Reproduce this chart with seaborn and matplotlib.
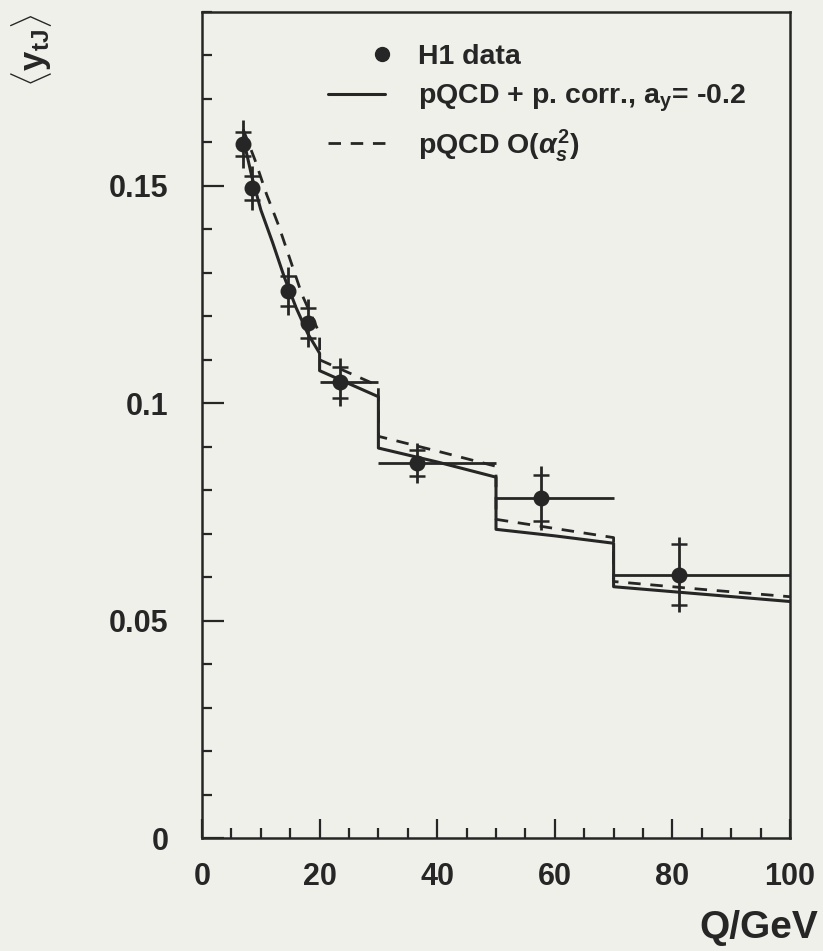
import numpy as np
import pandas as pd
import matplotlib
matplotlib.use("Agg")
import matplotlib.pyplot as plt
import seaborn as sns
from matplotlib.lines import Line2D
from matplotlib.legend_handler import HandlerLine2D
from matplotlib.ticker import MultipleLocator

# ---------------- data ----------------
q_data = [7.0, 8.5, 14.7, 18.1, 23.5, 36.5, 57.7, 81.2]
y_data = [0.1596, 0.1495, 0.1258, 0.1185, 0.1048, 0.0862, 0.0782, 0.0606]
tot_err = [0.0055, 0.0050, 0.0056, 0.0055, 0.0055, 0.0046, 0.0073, 0.0087]
stat_err = [0.0028, 0.0028, 0.0035, 0.0035, 0.0035, 0.0030, 0.0052, 0.0071]
q_bin_lo = [7.0, 8.5, 14.7, 18.1, 20.0, 30.0, 50.0, 70.0]
q_bin_hi = [7.0, 8.5, 14.7, 18.1, 30.0, 50.0, 70.0, 100.0]

solid_q = [7, 8.5, 10, 12, 14, 16, 18, 20, 20, 25, 30, 30, 40, 50, 50, 60, 70, 70, 85, 100]
solid_y = [0.161, 0.152, 0.1445, 0.137, 0.129, 0.122, 0.116, 0.1115, 0.1075, 0.1045, 0.1015,
           0.0897, 0.0865, 0.0830, 0.0710, 0.0695, 0.0678, 0.0578, 0.0561, 0.0544]
dashed_q = [7, 9, 11, 13, 15, 17, 19, 20, 20, 25, 30, 30, 40, 50, 50, 60, 70, 70, 85, 100]
dashed_y = [0.163, 0.156, 0.148, 0.141, 0.133, 0.125, 0.119, 0.116, 0.110, 0.107, 0.104,
            0.0924, 0.089, 0.0855, 0.0733, 0.0712, 0.0691, 0.0590, 0.0572, 0.0555]

x_ticks = [0, 20, 40, 60, 80, 100]
y_ticks = [0, 0.05, 0.1, 0.15]
y_tick_labels = ["0", "0.05", "0.1", "0.15"]

label_data = "H1 data"
label_solid = r"pQCD + p. corr., a$_\mathbf{y}$= -0.2"
label_dashed = r"pQCD O($\alpha_s^2$)"

# ---------------- style ----------------
sns.set_style("ticks")
INK = "#262626"
BG = "#f0f0ea"
plt.rcParams["font.family"] = ["Liberation Sans", "DejaVu Sans"]
plt.rcParams["font.weight"] = "bold"
plt.rcParams["mathtext.fontset"] = "custom"
plt.rcParams["mathtext.rm"] = "Liberation Sans:bold"
plt.rcParams["mathtext.bf"] = "Liberation Sans:bold"
plt.rcParams["mathtext.it"] = "Liberation Sans:bold:italic"
plt.rcParams["mathtext.sf"] = "Liberation Sans:bold"

fig = plt.figure(figsize=(8.23, 9.51), dpi=100, facecolor=BG)
ax = fig.add_axes([202 / 823, 113 / 951, 588 / 823, 826 / 951])
ax.set_facecolor(BG)

df_solid = pd.DataFrame({"Q": solid_q, "y": solid_y})
df_dash = pd.DataFrame({"Q": dashed_q, "y": dashed_y})
df_data = pd.DataFrame({"Q": q_data, "y": y_data})

sns.lineplot(data=df_solid, x="Q", y="y", sort=False, estimator=None, ax=ax,
             color=INK, linewidth=2.2, legend=False)
sns.lineplot(data=df_dash, x="Q", y="y", sort=False, estimator=None, ax=ax,
             color=INK, linewidth=2.0, linestyle=(0, (4.5, 3.5)), legend=False)

xerr = [np.array(q_data) - np.array(q_bin_lo), np.array(q_bin_hi) - np.array(q_data)]
ax.errorbar(q_data, y_data, yerr=tot_err, xerr=xerr, fmt="none", ecolor=INK,
            elinewidth=2.0, capsize=0, zorder=4)
ax.errorbar(q_data, y_data, yerr=stat_err, fmt="none", ecolor=INK,
            elinewidth=0, capsize=6, capthick=1.8, zorder=4)
sns.scatterplot(data=df_data, x="Q", y="y", ax=ax, color=INK, s=110,
                edgecolor=INK, linewidth=1, zorder=5, legend=False)

ax.set_xlim(0, 100)
ax.set_ylim(0, 0.19)
ax.set_xticks(x_ticks)
ax.set_xticklabels([str(v) for v in x_ticks])
ax.set_yticks(y_ticks)
ax.set_yticklabels(y_tick_labels)
ax.xaxis.set_minor_locator(MultipleLocator(5))
ax.yaxis.set_minor_locator(MultipleLocator(0.01))
ax.tick_params(axis="both", which="both", direction="in", color=INK,
               top=False, right=False, width=1.6)
ax.tick_params(axis="y", which="major", length=16, pad=24, labelsize=22, labelcolor=INK)
ax.tick_params(axis="y", which="minor", length=7)
ax.tick_params(axis="x", which="major", length=14, pad=17, labelsize=22, labelcolor=INK)
ax.tick_params(axis="x", which="minor", length=7)
for sp in ax.spines.values():
    sp.set_visible(True)
    sp.set_linewidth(1.8)
    sp.set_color(INK)
ax.set_xlabel("")
ax.set_ylabel("")

fig.text(818 / 823, 1 - 928 / 951, "Q/GeV", ha="right", va="center",
         fontsize=28, fontweight="bold", color=INK)
fig.text(32 / 823, 1 - 50 / 951, r"$\langle$y$_{\mathbf{tJ}}\rangle$", rotation=90,
         ha="center", va="center", fontsize=25, color=INK)


class RightMarker(HandlerLine2D):
    def create_artists(self, legend, orig_handle, xdescent, ydescent, width,
                       height, fontsize, trans):
        arts = super().create_artists(legend, orig_handle, xdescent, ydescent,
                                      width, height, fontsize, trans)
        for a in arts:
            a.set_xdata([-xdescent + 0.95 * width] * len(a.get_xdata()))
        return arts


h_data = Line2D([], [], linestyle="none", marker="o", markersize=10,
                color=INK, markeredgecolor=INK)
h_solid = Line2D([], [], color=INK, linewidth=2.2)
h_dash = Line2D([], [], color=INK, linewidth=2.0, linestyle=(0, (4.5, 3.5)))
leg = ax.legend([h_data, h_solid, h_dash], [label_data, label_solid, label_dashed],
                loc="upper left", bbox_to_anchor=(328 / 823, 1 - 44 / 951),
                bbox_transform=fig.transFigure, frameon=False, fontsize=20.5,
                handlelength=2.0, handletextpad=1.15, labelspacing=0.45,
                borderpad=0, borderaxespad=0,
                handler_map={h_data: RightMarker(numpoints=1)})
for t in leg.get_texts():
    t.set_color(INK)
    t.set_fontweight("bold")

fig.savefig("out.png", dpi=100, facecolor=BG)
